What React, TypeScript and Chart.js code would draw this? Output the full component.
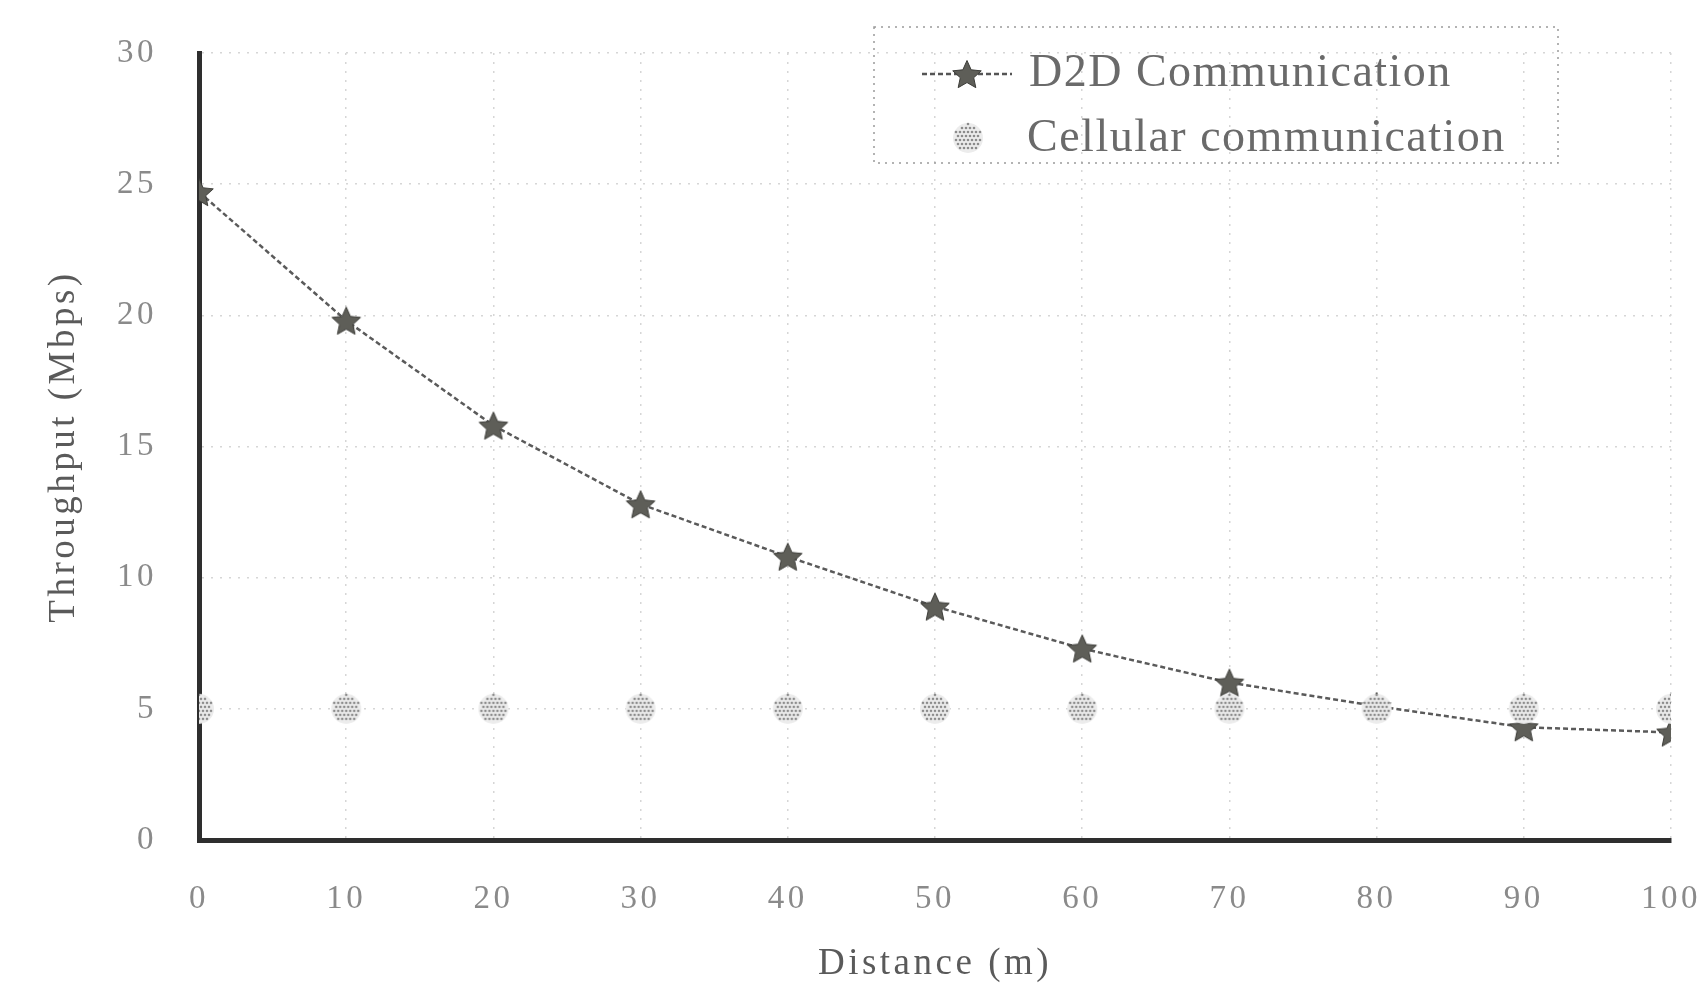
import React, { useEffect, useRef } from "react";
import { Chart, registerables } from "chart.js";

Chart.register(...registerables);

const distances = [0, 10, 20, 30, 40, 50, 60, 70, 80, 90, 100];
const d2dThroughput = [24.7, 19.8, 15.8, 12.8, 10.8, 8.9, 7.3, 6.0, 5.1, 4.3, 4.1];
const cellularThroughput = [5, 5, 5, 5, 5, 5, 5, 5, 5, 5, 5];
const seriesLabels = ["D2D Communication", "Cellular communication"];
const xTitle = "Distance (m)";
const yTitle = "Throughput (Mbps)";
const yMin = 0;
const yMax = 30;
const yStep = 5;
const xMin = 0;
const xMax = 100;
const xStep = 10;

const W = 1707;
const H = 986;

function makeStar(size: number): HTMLCanvasElement {
  const c = document.createElement("canvas");
  c.width = size;
  c.height = size;
  const ctx = c.getContext("2d")!;
  const cx = size / 2;
  const cy = size / 2 + 1.5;
  const ro = size / 2 - 1;
  const ri = ro * 0.47;
  ctx.beginPath();
  for (let i = 0; i < 10; i++) {
    const r = i % 2 === 0 ? ro : ri;
    const a = -Math.PI / 2 + (i * Math.PI) / 5;
    const px = cx + r * Math.cos(a);
    const py = cy + r * Math.sin(a);
    if (i === 0) ctx.moveTo(px, py);
    else ctx.lineTo(px, py);
  }
  ctx.closePath();
  ctx.fillStyle = "#5e5e58";
  ctx.fill();
  ctx.strokeStyle = "#3c3c38";
  ctx.lineWidth = 1;
  ctx.stroke();
  return c;
}

function makeHalftone(size: number): HTMLCanvasElement {
  const c = document.createElement("canvas");
  c.width = size;
  c.height = size;
  const ctx = c.getContext("2d")!;
  const r = size / 2 - 1;
  const cx = size / 2;
  const cy = size / 2;
  ctx.beginPath();
  ctx.arc(cx, cy, r, 0, Math.PI * 2);
  ctx.fillStyle = "#ececec";
  ctx.fill();
  for (let y = 2; y < size; y += 4) {
    const off = (Math.round(y / 4) % 2) * 2;
    for (let x = 2 + off; x < size; x += 4) {
      const d = Math.hypot(x - cx, y - cy);
      if (d <= r - 1) {
        ctx.beginPath();
        ctx.arc(x, y, 1.3, 0, Math.PI * 2);
        ctx.fillStyle = "#8c8c8c";
        ctx.fill();
      }
    }
  }
  return c;
}

export default function App() {
  const canvasRef = useRef<HTMLCanvasElement | null>(null);

  useEffect(() => {
    document.body.style.margin = "0";
    if (!canvasRef.current) return;
    const star = makeStar(32);
    const halftone = makeHalftone(32);

    const spacingPlugin = {
      id: "spacing",
      beforeDraw(chart: any) {
        (chart.ctx as any).letterSpacing = "3.5px";
      },
    };

    const legendPlugin = {
      id: "boxLegend",
      afterDraw(chart: any) {
        const ctx = chart.ctx as CanvasRenderingContext2D;
        ctx.save();
        ctx.setLineDash([2, 5]);
        ctx.strokeStyle = "#9a9a9a";
        ctx.lineWidth = 1.5;
        ctx.strokeRect(874, 27, 684, 136);
        ctx.setLineDash([5, 3]);
        ctx.strokeStyle = "#555555";
        ctx.lineWidth = 2.5;
        ctx.beginPath();
        ctx.moveTo(922, 74);
        ctx.lineTo(1012, 74);
        ctx.stroke();
        ctx.setLineDash([]);
        ctx.drawImage(star, 967 - 16, 74 - 16);
        ctx.drawImage(halftone, 968 - 16, 138 - 16);
        (ctx as any).letterSpacing = "1.5px";
        ctx.fillStyle = "#6a6a6a";
        ctx.font = "46px 'Liberation Serif'";
        ctx.textBaseline = "middle";
        ctx.textAlign = "left";
        ctx.fillText(seriesLabels[0], 1029, 74);
        ctx.fillText(seriesLabels[1], 1027, 139);
        ctx.restore();
      },
    };

    const chart = new Chart(canvasRef.current, {
      type: "line",
      data: {
        datasets: [
          {
            label: seriesLabels[1],
            data: distances.map((x, i) => ({ x, y: cellularThroughput[i] })),
            showLine: false,
            pointStyle: halftone as any,
            pointRadius: 16,
            borderColor: "#999",
            backgroundColor: "#ccc",
          },
          {
            label: seriesLabels[0],
            data: distances.map((x, i) => ({ x, y: d2dThroughput[i] })),
            borderColor: "#5a5a5a",
            borderWidth: 2.5,
            borderDash: [5, 3],
            pointStyle: star as any,
            pointRadius: 16,
            backgroundColor: "#555",
            tension: 0,
          },
        ],
      },
      options: {
        animation: false,
        responsive: false,
        maintainAspectRatio: false,
        layout: { padding: { left: 42, top: 53, right: 36, bottom: 0 } },
        plugins: {
          legend: { display: false },
          tooltip: { enabled: false },
        },
        scales: {
          x: {
            type: "linear",
            min: xMin,
            max: xMax,
            afterFit: (s: any) => {
              s.height = 146;
            },
            ticks: {
              stepSize: xStep,
              color: "#8a8a8a",
              font: { family: "'Liberation Serif'", size: 33 },
              padding: 2,
            },
            grid: {
              color: "#d6d6d6",
              lineWidth: 1.5,
              drawTicks: true,
              tickLength: 38,
              tickColor: "rgba(0,0,0,0)",
            },
            border: { color: "#2e2e2e", width: 5, dash: [2, 7] },
            title: {
              display: true,
              text: xTitle,
              color: "#5a5a5a",
              font: { family: "'Liberation Serif'", size: 37 },
              padding: { top: 0, bottom: 0 },
            },
          },
          y: {
            min: yMin,
            max: yMax,
            afterFit: (s: any) => {
              s.width = 157;
            },
            ticks: {
              stepSize: yStep,
              color: "#8a8a8a",
              font: { family: "'Liberation Serif'", size: 33 },
              padding: 2,
            },
            grid: {
              color: "#d6d6d6",
              lineWidth: 1.5,
              drawTicks: true,
              tickLength: 40,
              tickColor: "rgba(0,0,0,0)",
            },
            border: { color: "#2e2e2e", width: 5, dash: [2, 7] },
            title: {
              display: true,
              text: yTitle,
              color: "#5a5a5a",
              font: { family: "'Liberation Serif'", size: 37 },
              padding: { top: 0, bottom: 0 },
            },
          },
        },
      } as any,
      plugins: [spacingPlugin, legendPlugin],
    });

    return () => chart.destroy();
  }, []);

  return (
    <div style={{ width: W, height: H, background: "#fff", overflow: "hidden" }}>
      <canvas ref={canvasRef} width={W} height={H} style={{ display: "block" }} />
    </div>
  );
}
